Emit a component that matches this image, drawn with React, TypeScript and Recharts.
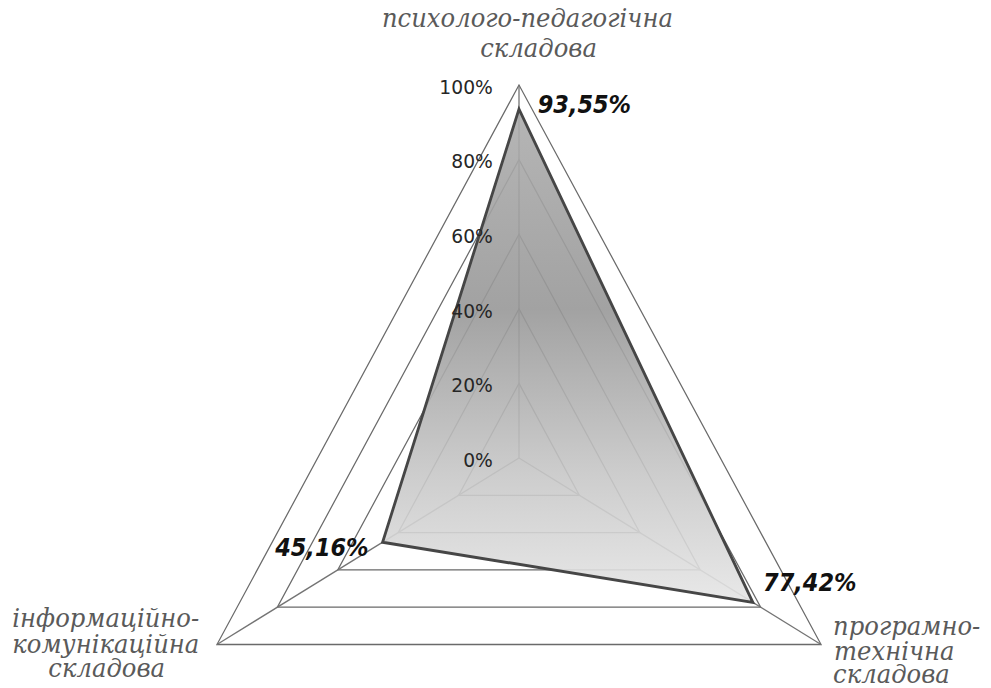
import React from 'react';
import {
  RadarChart,
  Radar,
  PolarGrid,
  PolarAngleAxis,
  PolarRadiusAxis,
  LabelList,
} from 'recharts';

// Components of the competence, clockwise from the top
const categories = [
  'психолого-педагогічна складова',
  'програмно-технічна складова',
  'інформаційно-комунікаційна складова',
];
const categoryLines = [
  ['психолого-педагогічна', 'складова'],
  ['програмно-', 'технічна', 'складова'],
  ['інформаційно-', 'комунікаційна', 'складова'],
];
// Share of the level reached, %
const values = [93.55, 77.42, 45.16];
const radiusTicks = [0, 20, 40, 60, 80, 100];

const data = categories.map((c, i) => ({ category: c, value: values[i] }));

// Drawing area: the chart is a little narrower than tall (scaleX below)
const W = 1080;
const H = 688;
const CX = 560;
const CY = 458;
const R = 373;
const SHIFT = -41;
const SQUEEZE = 0.935;

const serif = '"DejaVu Serif", "Liberation Serif", serif';
const sans = '"DejaVu Sans", "Liberation Sans", sans-serif';

const formatPct = (v: number) => v.toFixed(2).replace('.', ',') + '%';

// Per-category placement of the multi-line axis captions, relative to the tick point
const captionLayout = [
  { anchor: 'middle', dx: [9, 21, 0], dy: [-50, -20, 0] },
  { anchor: 'start', dx: [6, 7, 6], dy: [-13.5, 11.5, 34.5] },
  { anchor: 'middle', dx: [-112, -112, -111], dy: [-21.5, 4.5, 28.5] },
];

const CategoryTick = (props: any) => {
  const { x, y, payload } = props;
  const i = categories.indexOf(payload.value);
  const lines = categoryLines[i] || [];
  const lay = captionLayout[i] || captionLayout[0];
  return (
    <g>
      {lines.map((ln, k) => (
        <text
          key={k}
          x={x + lay.dx[k]}
          y={y + lay.dy[k]}
          textAnchor={lay.anchor as any}
          fontFamily={serif}
          fontStyle="italic"
          fontSize={26}
          fill="#5a5a5a"
        >
          {ln}
        </text>
      ))}
    </g>
  );
};

const RadiusTick = (props: any) => {
  const { x, y, payload } = props;
  return (
    <text
      x={x - 28}
      y={y + 2}
      textAnchor="end"
      dominantBaseline="central"
      fontFamily={sans}
      fontSize={20}
      fill="#262626"
    >
      {payload.value}%
    </text>
  );
};

const labelOffsets = [
  { dx: 20, dy: -5, anchor: 'start' },
  { dx: 11, dy: -20, anchor: 'start' },
  { dx: -15, dy: 5, anchor: 'end' },
];

const ValueLabel = (props: any) => {
  const { x, y, value, index } = props;
  const o = labelOffsets[index] || labelOffsets[0];
  return (
    <text
      x={x + o.dx}
      y={y + o.dy}
      textAnchor={o.anchor as any}
      dominantBaseline="central"
      fontFamily={sans}
      fontWeight="bold"
      fontStyle="italic"
      fontSize={24}
      fill="#111"
    >
      {formatPct(Number(value))}
    </text>
  );
};

export default function App() {
  return (
    <div
      style={{
        position: 'fixed',
        left: 0,
        top: 0,
        width: 991,
        height: 688,
        overflow: 'hidden',
        background: '#fff',
      }}
    >
      <div
        style={{
          width: W,
          height: H,
          marginLeft: SHIFT,
          transform: `scaleX(${SQUEEZE})`,
          transformOrigin: `${CX}px 0`,
        }}
      >
        <RadarChart width={W} height={H} data={data} cx={CX} cy={CY} outerRadius={R}>
          <defs>
            <linearGradient
              id="levelFill"
              gradientUnits="userSpaceOnUse"
              x1="0"
              y1={CY - R}
              x2="0"
              y2={CY + R / 2}
            >
              <stop offset="0" stopColor="#b0b0b0" />
              <stop offset="0.4" stopColor="#989898" />
              <stop offset="0.7" stopColor="#c8c8c8" />
              <stop offset="1" stopColor="#f0f0f0" />
            </linearGradient>
          </defs>
          <PolarGrid gridType="polygon" stroke="#6a6a6a" strokeWidth={1.3} radialLines={false} />
          <PolarAngleAxis
            dataKey="category"
            axisLine={false}
            tickLine={false}
            tick={<CategoryTick />}
          />
          <PolarRadiusAxis
            angle={90}
            domain={[0, 100]}
            ticks={radiusTicks}
            tickCount={6}
            axisLine={false}
            tick={<RadiusTick />}
          />
          <Radar
            dataKey="value"
            stroke="#464646"
            strokeWidth={3}
            fill="url(#levelFill)"
            fillOpacity={0.9}
            isAnimationActive={false}
          >
            <LabelList dataKey="value" content={<ValueLabel />} />
          </Radar>
          <PolarGrid gridType="polygon" stroke="#747474" strokeWidth={1.4} polarRadius={[0]} />
        </RadarChart>
      </div>
    </div>
  );
}
